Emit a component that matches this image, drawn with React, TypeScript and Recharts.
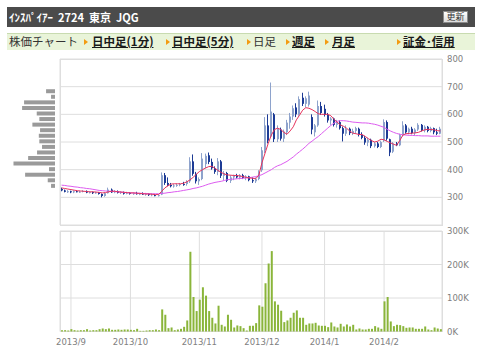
import React from "react";
import {
  ComposedChart,
  BarChart,
  Bar,
  Line,
  XAxis,
  YAxis,
  CartesianGrid,
} from "recharts";

// trading days shown on the chart, per month
const MONTH_DAYS: [string, number[]][] = [
  ["2013/8", [28, 29, 30]],
  ["2013/9", [2, 3, 4, 5, 6, 9, 10, 11, 12, 13, 17, 18, 19, 20, 24, 25, 26, 27, 30]],
  ["2013/10", [1, 2, 3, 4, 7, 8, 9, 10, 11, 15, 16, 17, 18, 21, 22, 23, 24, 25, 28, 29, 30, 31]],
  ["2013/11", [1, 5, 6, 7, 8, 11, 12, 13, 14, 15, 18, 19, 20, 21, 22, 25, 26, 27, 28, 29]],
  ["2013/12", [2, 3, 4, 5, 6, 9, 10, 11, 12, 13, 16, 17, 18, 19, 20, 24, 25, 26, 27, 30]],
  ["2014/1", [6, 7, 8, 9, 10, 14, 15, 16, 17, 20, 21, 22, 23, 24, 27, 28, 29, 30, 31]],
  ["2014/2", [3, 4, 5, 6, 7, 10, 12, 13, 14, 17, 18, 19, 20, 21, 24, 25, 26, 27, 28]],
];

// [open, high, low, close]
const CANDLES: [number, number, number, number][] = [
  [330, 335, 322, 325], [325, 328, 318, 320], [320, 326, 316, 322],
  [322, 324, 315, 318], [318, 325, 315, 322], [322, 326, 318, 320], [320, 324, 316, 321],
  [321, 326, 318, 323], [323, 325, 315, 317], [317, 322, 314, 319], [319, 321, 312, 315],
  [316, 320, 313, 318], [318, 319, 310, 312], [312, 314, 300, 305], [305, 318, 302, 315],
  [315, 335, 314, 328], [328, 332, 316, 318], [318, 326, 315, 322], [322, 325, 314, 316],
  [316, 322, 312, 319], [319, 321, 310, 313], [313, 320, 311, 317], [317, 319, 310, 312],
  [312, 318, 309, 315], [315, 320, 310, 312], [312, 316, 308, 314], [314, 318, 309, 310],
  [310, 316, 306, 313], [313, 315, 305, 308], [308, 314, 304, 311], [308, 312, 304, 306],
  [306, 310, 303, 308], [310, 390, 308, 380], [380, 388, 345, 352], [352, 372, 340, 345],
  [345, 352, 336, 340], [340, 348, 335, 343], [343, 350, 338, 345], [345, 352, 340, 348],
  [348, 356, 342, 346], [348, 362, 342, 358], [358, 445, 352, 430], [430, 455, 378, 385],
  [385, 392, 350, 358], [358, 372, 345, 366], [366, 460, 362, 440], [420, 458, 405, 450],
  [452, 462, 420, 428], [428, 440, 400, 405], [405, 412, 385, 392], [392, 442, 380, 430],
  [430, 435, 370, 378], [378, 395, 362, 388], [388, 392, 355, 360], [360, 380, 352, 372],
  [372, 382, 362, 378], [378, 385, 368, 372], [372, 384, 365, 380], [380, 385, 366, 370],
  [370, 380, 362, 376], [376, 378, 358, 362], [362, 372, 352, 358], [358, 372, 352, 366],
  [366, 398, 362, 392], [398, 482, 392, 470], [470, 590, 460, 560], [560, 600, 495, 505],
  [520, 715, 515, 610], [600, 605, 500, 510], [510, 560, 500, 550], [545, 552, 505, 512],
  [512, 545, 500, 538], [535, 580, 525, 570], [570, 605, 548, 592], [592, 632, 580, 622],
  [625, 640, 590, 600], [600, 665, 595, 655], [660, 678, 630, 638], [638, 665, 625, 658],
  [635, 682, 628, 668], [590, 600, 528, 545], [535, 565, 520, 560], [560, 650, 555, 630],
  [630, 645, 598, 605], [620, 635, 592, 598], [598, 605, 570, 578], [578, 590, 562, 585],
  [585, 588, 556, 562], [562, 580, 552, 572], [572, 578, 545, 550], [550, 556, 502, 530],
  [530, 560, 522, 548], [548, 552, 525, 532], [532, 548, 525, 540], [540, 555, 530, 550],
  [548, 552, 520, 526], [526, 535, 510, 515], [515, 522, 490, 498], [498, 515, 485, 508],
  [508, 512, 478, 485], [485, 500, 480, 495], [495, 500, 478, 482], [482, 505, 478, 500],
  [505, 582, 500, 572], [572, 578, 505, 512], [510, 512, 449, 462], [465, 500, 460, 495],
  [495, 500, 485, 488], [488, 530, 485, 525], [525, 575, 520, 560], [560, 565, 530, 535],
  [535, 552, 528, 548], [548, 555, 528, 532], [532, 550, 525, 545], [545, 568, 540, 562],
  [562, 565, 538, 542], [542, 560, 535, 555], [555, 558, 535, 540], [540, 555, 535, 550],
  [550, 552, 528, 535], [535, 548, 525, 530], [530, 555, 528, 548],
];

// short moving average (red)
const MA_SHORT = [
  334, 332, 330, 328, 326, 324, 323, 322, 321, 320, 320, 319, 318, 316, 317, 320, 322, 322, 320, 319,
  318, 317, 316, 316, 315, 314, 313, 312, 312, 311, 310, 310, 322, 334, 342, 348, 349, 349, 349, 351,
  356, 363, 372, 383, 393, 400, 406, 411, 412, 405, 397, 390, 384, 381, 380, 379, 379, 377, 375, 372,
  370, 369, 367, 380, 425, 460, 495, 525, 545, 550, 545, 535, 528, 540, 555, 580, 597, 615, 624, 622,
  617, 610, 602, 600, 600, 600, 595, 582, 572, 562, 557, 550, 540, 532, 530, 527, 527, 520, 512, 505,
  500, 503, 510, 508, 502, 497, 492, 488, 505, 525, 530, 531, 532, 533, 535, 540, 544, 546, 545, 544,
  541, 540,
];

// long moving average (magenta)
const MA_LONG = [
  344, 343, 341, 340, 338, 337, 335, 334, 332, 331, 329, 327, 325, 324, 323, 322, 322, 321, 320, 319,
  318, 317, 316, 316, 315, 315, 314, 314, 313, 313, 313, 313, 314, 315, 317, 318, 320, 321, 323, 325,
  327, 329, 332, 334, 337, 340, 344, 348, 351, 354, 356, 358, 361, 364, 365, 366, 367, 368, 369, 370,
  371, 373, 375, 378, 382, 388, 394, 400, 408, 414, 418, 424, 430, 438, 446, 456, 465, 474, 484, 495,
  503, 512, 520, 530, 540, 550, 560, 568, 575, 577, 577, 576, 574, 572, 571, 570, 569, 569, 568, 566,
  564, 561, 557, 553, 546, 540, 535, 531, 528, 526, 525, 524, 524, 523, 523, 522, 522, 522, 521, 521,
  521, 521,
];

// volume, thousand shares
const VOLUME_K = [
  4, 4, 3, 7, 4, 3, 4, 4, 7, 3, 4, 4, 7, 9, 7, 9, 5, 5, 6, 5,
  6, 6, 5, 4, 8, 2, 2, 3, 4, 4, 6, 4, 66, 50, 10, 12, 4, 6, 8, 14,
  33, 238, 103, 61, 95, 132, 107, 61, 41, 24, 77, 20, 15, 50, 35, 12, 18, 16, 10, 3,
  17, 17, 25, 78, 74, 144, 203, 240, 90, 80, 62, 28, 33, 41, 56, 63, 41, 41, 20, 24,
  24, 26, 18, 17, 17, 13, 27, 15, 12, 23, 15, 21, 15, 20, 6, 9, 6, 6, 8, 8,
  16, 12, 8, 90, 103, 30, 16, 20, 19, 16, 11, 12, 12, 8, 8, 8, 15, 6, 4, 12,
  9, 7,
];

// volume-by-price profile on the left
const PROFILE_PRICE = [655, 635, 615, 595, 575, 555, 535, 515, 495, 475, 455, 435, 415, 395, 375, 355, 335, 315];
const PROFILE_VOL = [38, 70, 288, 58, 400, 259, 173, 125, 151, 156, 144, 218, 151, 176, 317, 298, 38, 86];

const PRICE_TICKS = [200, 300, 400, 500, 600, 700, 800];
const VOL_TICKS = [0, 100, 200, 300];

const DATES = MONTH_DAYS.flatMap(([ym, days]) => days.map((d) => `${ym}/${d}`));
const TICK_DATES = MONTH_DAYS.slice(1).map(([ym, days]) => `${ym}/${days[0]}`);

const data = DATES.map((date, i) => {
  const [open, high, low, close] = CANDLES[i];
  return {
    date,
    open,
    high,
    low,
    close,
    range: [low, high],
    vol: VOLUME_K[i],
    maS: MA_SHORT[i],
    maL: MA_LONG[i],
  };
});

const profile = PROFILE_PRICE.map((price, i) => ({ price, vol: PROFILE_VOL[i] }));

const GRID = "#dedede";
const AXIS_TICK = { fontSize: 8.5, fill: "#808080", fontFamily: "DejaVu Sans" };
const JP = '"Noto Sans CJK JP", sans-serif';

function Candle(props: any) {
  const { x, y, width, height, payload } = props;
  if (!payload) return null;
  const { open, close, high, low } = payload;
  const top = Math.min(y, y + height);
  const h = Math.abs(height);
  const ppu = high === low ? 0 : h / (high - low);
  const bodyTop = top + (high - Math.max(open, close)) * ppu;
  const bodyH = Math.max(1, Math.abs(open - close) * ppu);
  const up = close >= open;
  const color = up ? "#8ea3cc" : "#1d3b95";
  const cx = Math.round(x + width / 2);
  return (
    <g>
      <rect x={cx - 1} y={top} width={1} height={h} fill={color} />
      <rect x={cx - 1} y={bodyTop} width={2} height={bodyH} fill={color} />
    </g>
  );
}

function Tri({ left }: { left: number }) {
  return (
    <div
      style={{
        position: "absolute",
        left,
        top: 39,
        width: 0,
        height: 0,
        borderTop: "3px solid transparent",
        borderBottom: "3px solid transparent",
        borderLeft: "4px solid #f39c12",
      }}
    />
  );
}

function Tab({ left, text, link = true }: { left: number; text: string; link?: boolean }) {
  return (
    <span
      style={{
        position: "absolute",
        left,
        top: 33,
        lineHeight: "17px",
        fontSize: 11.5,
        fontFamily: JP,
        fontWeight: link ? 700 : 400,
        textDecoration: link ? "underline" : "none",
        color: link ? "#1a1a1a" : "#333",
        whiteSpace: "nowrap",
      }}
    >
      {text}
    </span>
  );
}

export default function App() {
  return (
    <div
      style={{
        position: "absolute",
        left: 0,
        top: 0,
        width: 480,
        height: 358,
        background: "#fff",
        overflow: "hidden",
      }}
    >
      {/* title bar */}
      <div
        style={{
          position: "absolute",
          left: 7,
          top: 7,
          width: 468,
          height: 20,
          background: "#4b4b4b",
        }}
      />
      <div
        style={{
          position: "absolute",
          left: 9,
          top: 7,
          lineHeight: "20px",
          fontSize: 11,
          fontFamily: JP,
          fontWeight: 700,
          color: "#fff",
          whiteSpace: "pre",
        }}
      >
        {"ｲﾝｽﾊﾟｲｱｰ  2724  東京  JQG"}
      </div>
      <div
        style={{
          position: "absolute",
          left: 443,
          top: 11,
          width: 25,
          height: 12,
          boxSizing: "border-box",
          border: "1px solid #8a8a8a",
          background: "linear-gradient(#ffffff, #dcdcdc)",
          fontSize: 9,
          lineHeight: "10px",
          textAlign: "center",
          fontFamily: JP,
          color: "#333",
        }}
      >
        更新
      </div>

      {/* tab strip */}
      <div
        style={{
          position: "absolute",
          left: 7,
          top: 33,
          width: 468,
          height: 17,
          boxSizing: "border-box",
          borderTop: "1px solid #c8dbb0",
          background: "#e9f4d9",
        }}
      />
      <Tab left={9} text="株価チャート" link={false} />
      <Tri left={84} />
      <Tab left={92} text="日中足(1分)" />
      <Tri left={166} />
      <Tab left={172} text="日中足(5分)" />
      <Tri left={247} />
      <Tab left={253} text="日足" link={false} />
      <Tri left={286} />
      <Tab left={292} text="週足" />
      <Tri left={325} />
      <Tab left={332} text="月足" />
      <Tri left={397} />
      <Tab left={403} text="証金･信用" />

      {/* plot frames */}
      <div
        style={{
          position: "absolute",
          left: 60,
          top: 59,
          width: 383,
          height: 167,
          boxSizing: "border-box",
          border: `1px solid ${GRID}`,
        }}
      />
      <div
        style={{
          position: "absolute",
          left: 60,
          top: 231,
          width: 383,
          height: 101,
          boxSizing: "border-box",
          border: `1px solid ${GRID}`,
        }}
      />

      {/* volume-by-price */}
      <div style={{ position: "absolute", left: 0, top: 0 }}>
        <BarChart
          width={55}
          height={226}
          data={profile}
          layout="vertical"
          margin={{ top: 59, right: 0, bottom: 0, left: 0 }}
        >
          <XAxis type="number" domain={[0, 530]} reversed hide />
          <YAxis
            type="number"
            dataKey="price"
            domain={[200, 800]}
            ticks={PRICE_TICKS}
            width={0}
            tick={false}
            axisLine={false}
            tickLine={false}
          />
          <Bar dataKey="vol" fill="#9a9a9a" barSize={4} isAnimationActive={false} />
        </BarChart>
      </div>

      {/* price */}
      <div style={{ position: "absolute", left: 0, top: 0 }}>
        <ComposedChart
          width={480}
          height={226}
          data={data}
          barCategoryGap={0}
          margin={{ top: 59, right: 0, bottom: 0, left: 60 }}
        >
          <CartesianGrid stroke={GRID} />
          <XAxis
            dataKey="date"
            ticks={TICK_DATES}
            interval={0}
            height={1}
            tick={false}
            axisLine={false}
            tickLine={false}
          />
          <YAxis
            orientation="right"
            domain={[200, 800]}
            ticks={PRICE_TICKS}
            width={38}
            tick={AXIS_TICK}
            tickSize={3}
            tickMargin={2}
            axisLine={false}
            tickLine={false}
          />
          <Bar dataKey="range" shape={(p: any) => <Candle {...p} />} isAnimationActive={false} />
          <Line
            type="linear"
            dataKey="maL"
            stroke="#dd5cf0"
            strokeWidth={1}
            dot={false}
            isAnimationActive={false}
          />
          <Line
            type="linear"
            dataKey="maS"
            stroke="#e6335d"
            strokeWidth={1}
            dot={false}
            isAnimationActive={false}
          />
        </ComposedChart>
      </div>

      {/* volume */}
      <div style={{ position: "absolute", left: 0, top: 225 }}>
        <ComposedChart
          width={480}
          height={133}
          data={data}
          margin={{ top: 6, right: 0, bottom: 0, left: 60 }}
        >
          <CartesianGrid stroke={GRID} />
          <XAxis
            dataKey="date"
            ticks={TICK_DATES}
            interval={0}
            height={26.5}
            tick={AXIS_TICK}
            tickFormatter={(v: string) => v.split("/").slice(0, 2).join("/")}
            tickSize={5}
            tickMargin={2}
            axisLine={false}
            tickLine={false}
          />
          <YAxis
            orientation="right"
            domain={[0, 300]}
            ticks={VOL_TICKS}
            width={38}
            tick={AXIS_TICK}
            tickFormatter={(v: number) => `${v}K`}
            tickSize={3}
            tickMargin={2}
            axisLine={false}
            tickLine={false}
          />
          <Bar dataKey="vol" fill="#8ab53a" barSize={2} isAnimationActive={false} />
        </ComposedChart>
      </div>
    </div>
  );
}
